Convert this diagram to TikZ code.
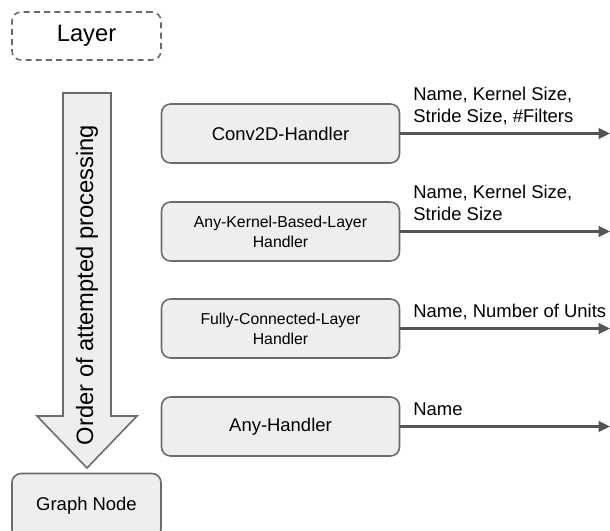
\documentclass[tikz,border=0pt]{standalone}
\usepackage{fontspec}
\setmainfont{Liberation Sans}
\usetikzlibrary{arrows.meta,positioning}
\definecolor{boxfill}{HTML}{EEEEEE}
\definecolor{boxline}{HTML}{6B6B6B}
\definecolor{conncol}{HTML}{555555}

\begin{document}
\begin{tikzpicture}[x=0.02cm, y=-0.02cm,
  handler/.style={draw=boxline, fill=boxfill, line width=0.9pt, rounded corners=0.18cm, minimum width=4.76cm, minimum height=1.18cm, align=center, inner sep=0pt},
  layerbox/.style={draw=boxline, line width=0.9pt, dash pattern=on 3.4pt off 2.4pt, rounded corners=0.18cm, minimum width=2.98cm, minimum height=0.96cm, font=\fontsize{13.5}{16}\selectfont},
  conn/.style={draw=conncol, line width=1.3pt, -{Triangle[length=6.5pt,width=6pt]}},
  lbl/.style={anchor=south west, inner sep=0pt, align=left, xshift=0.24cm, yshift=0.07cm, font=\fontsize{10.5}{12.6}\selectfont},
  big/.style={font=\fontsize{10.5}{12.6}\selectfont},
  small/.style={font=\fontsize{9}{11.3}\selectfont}]
  \useasboundingbox (0,0) rectangle (610,531);
  \coordinate (rim) at (610,0);

  \node[layerbox] (layer) at (86.5,36) {Layer};

  % order arrow
  \draw[draw=boxline, fill=boxfill, line width=0.9pt] (63,93) -- (111,93) -- (111,416) -- (137,416) -- (87,468) -- (37,416) -- (63,416) -- cycle;
  \node[rotate=90, font=\fontsize{13.5}{16}\selectfont] (order) at (87,285) {Order of attempted processing};

  \node[handler, big] (conv) at (280.5,133.5) {Conv2D-Handler};
  \node[handler, small] (kernel) at (280.5,231.5) {Any-Kernel-Based-Layer\\Handler};
  \node[handler, small] (dense) at (280.5,328.5) {Fully-Connected-Layer\\Handler};
  \node[handler, big] (any) at (280.5,426.5) {Any-Handler};

  \node[handler, big, minimum width=2.98cm, minimum height=1.3cm] (graph) at (86.5,506) {\raisebox{0.06cm}{Graph Node}};

  \draw[conn] (conv.east) -- (conv.east -| rim) node[lbl, pos=0] {Name, Kernel Size,\\Stride Size, \#Filters\strut};
  \draw[conn] (kernel.east) -- (kernel.east -| rim) node[lbl, pos=0] {Name, Kernel Size,\\Stride Size\strut};
  \draw[conn] (dense.east) -- (dense.east -| rim) node[lbl, pos=0] {Name, Number of Units\strut};
  \draw[conn] (any.east) -- (any.east -| rim) node[lbl, pos=0] {Name\strut};
\end{tikzpicture}
\end{document}
